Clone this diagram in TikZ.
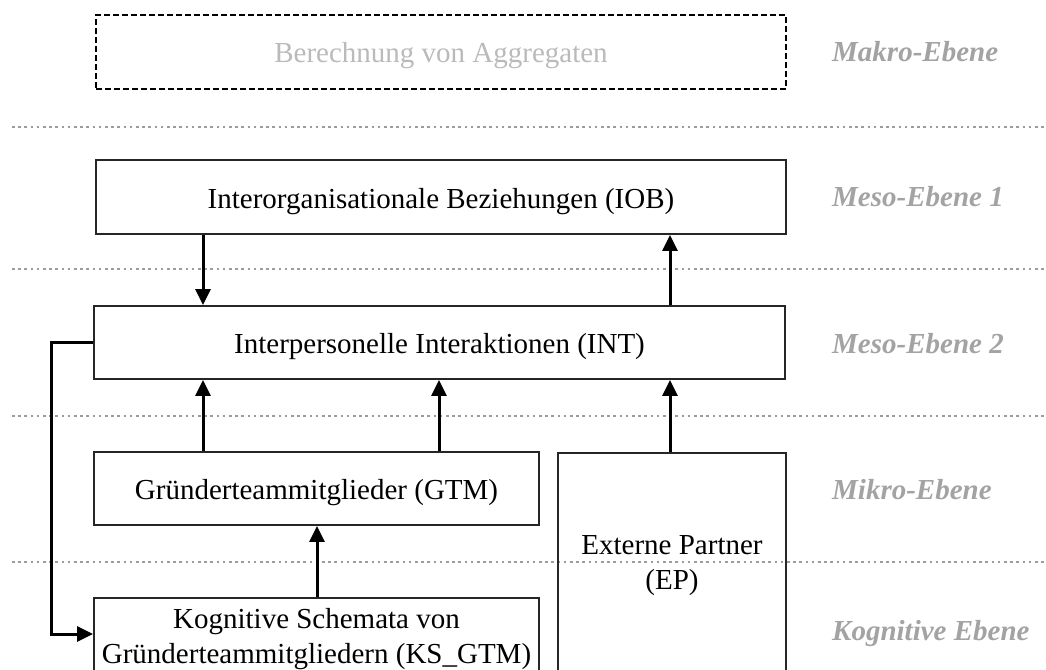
\documentclass[tikz,border=0pt]{standalone}
\usepackage{fontspec}
\setmainfont{Liberation Serif}
\usetikzlibrary{arrows.meta}
\definecolor{lvlgray}{HTML}{A3A3A3}
\definecolor{lightgray}{HTML}{BABABA}
\definecolor{dotgray}{HTML}{9C9C9C}
\begin{document}
\begin{tikzpicture}[x=1pt,y=-1pt,
  box/.style={draw=black!85, line width=1.8pt, inner sep=0pt, align=center,
    font=\fontsize{29}{35}\selectfont},
  onebox/.style={box, text height=27pt, text depth=5pt},
  lvl/.style={anchor=west, text=lvlgray, inner sep=0pt,
    font=\fontsize{29}{35}\selectfont\bfseries\itshape},
  sepline/.style={draw=dotgray, line width=2.8pt, dash pattern=on 2.6pt off 3.6pt},
  arr/.style={draw=black, line width=3pt, -{Triangle[length=16pt,width=15pt]}}]
\useasboundingbox (0,0) rectangle (1046,669);
\clip (0,0) rectangle (1046,669);

% level separators
\draw[sepline] (12,127) -- (1046,127);
\draw[sepline] (12,269) -- (1046,269);
\draw[sepline] (12,416) -- (1046,416);
\draw[sepline] (12,562) -- (1046,562);

% boxes
\node[onebox, draw=black, dash pattern=on 6pt off 3pt, text=lightgray,
  minimum width=690, minimum height=74]
  (makro) at (441,52) {Berechnung von Aggregaten};
\node[onebox, minimum width=690, minimum height=74]
  (iob) at (441,197) {Interorganisationale Beziehungen (IOB)};
\node[onebox, minimum width=691, minimum height=73]
  (int) at (439.5,342.5) {Interpersonelle Interaktionen (INT)};
\node[onebox, minimum width=445, minimum height=73]
  (gtm) at (316.5,488.5) {Gründerteammitglieder (GTM)};
\node[box, minimum width=228, minimum height=226]
  (ep) at (672,566) {Externe Partner\\(EP)};
\node[box, minimum width=445, minimum height=82]
  (ks) at (316.5,639) {Kognitive Schemata von\\Gründerteammitgliedern (KS\_GTM)};

% level labels
\node[lvl] (lmakro) at (832,52) {Makro-Ebene};
\node[lvl] (lmeso1) at (832,197) {Meso-Ebene 1};
\node[lvl] (lmeso2) at (832,344) {Meso-Ebene 2};
\node[lvl] (lmikro) at (832,490) {Mikro-Ebene};
\node[lvl] (lkog) at (832,634) {Kognitive Ebene};

% arrow columns
\coordinate (xa) at (203,0);
\coordinate (xb) at (439,0);
\coordinate (xc) at (670,0);
\coordinate (xd) at (317,0);
\coordinate (fb) at (51,634);

\draw[arr] (iob.south -| xa) -- (int.north -| xa);
\draw[arr] (int.north -| xc) -- (iob.south -| xc);
\draw[arr] (gtm.north -| xa) -- (int.south -| xa);
\draw[arr] (gtm.north -| xb) -- (int.south -| xb);
\draw[arr] (ep.north -| xc) -- (int.south -| xc);
\draw[arr] (ks.north -| xd) -- (gtm.south -| xd);
\draw[arr] (int.west) -| (fb) -- (ks.west |- fb);
\end{tikzpicture}
\end{document}
